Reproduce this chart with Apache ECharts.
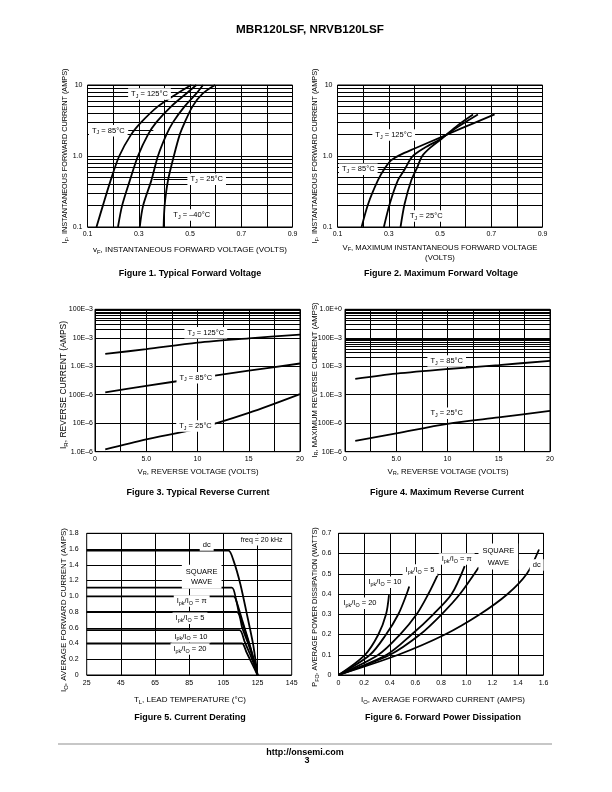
<!DOCTYPE html>
<html><head><meta charset="utf-8">
<script src="https://cdn.jsdelivr.net/npm/echarts@6/dist/echarts.min.js"></script>
<style>html,body{margin:0;padding:0;background:#fff}#c{width:612px;height:792px}</style>
</head><body><div id="c"></div>
<script>
// ---------------- DATA ----------------
// Figure 1: Typical forward voltage  [vF (V), iF (A)]
const fig1_T125 = [[0.135,0.1],[0.160,0.2],[0.190,0.45],[0.224,1.0],[0.270,2.0],[0.310,3.0],[0.375,5.0],[0.450,7.6],[0.505,10]];
const fig1_T85  = [[0.219,0.1],[0.235,0.2],[0.265,0.45],[0.297,1.0],[0.336,2.0],[0.369,3.0],[0.427,5.0],[0.486,7.6],[0.525,10]];
const fig1_T25  = [[0.304,0.1],[0.317,0.2],[0.349,0.45],[0.375,1.0],[0.408,2.0],[0.434,3.0],[0.479,5.0],[0.525,7.6],[0.551,10]];
const fig1_Tm40 = [[0.397,0.1],[0.401,0.2],[0.414,0.45],[0.437,1.0],[0.460,2.0],[0.480,3.0],[0.510,5.0],[0.550,7.6],[0.598,10]];
const fig1_arrows = [[[0.259,2.27],[0.357,2.27]],[[0.493,0.47],[0.357,0.47]]];
// Figure 2: Maximum forward voltage
const fig2_T125 = [[0.194,0.1],[0.220,0.213],[0.258,0.456],[0.284,0.666],[0.310,0.873],[0.343,1.03],[0.401,1.276],[0.505,1.845],[0.583,2.445],[0.713,3.85]];
const fig2_T85  = [[0.281,0.1],[0.304,0.213],[0.336,0.456],[0.362,0.645],[0.391,0.973],[0.440,1.304],[0.499,1.71],[0.570,2.58],[0.648,3.85]];
const fig2_T25  = [[0.346,0.1],[0.362,0.213],[0.388,0.456],[0.412,0.703],[0.430,0.995],[0.466,1.347],[0.503,1.71],[0.570,2.724],[0.629,3.85]];
const fig2_arrows = [[[0.259,0.65],[0.363,0.65]]];
// Figure 3: Typical reverse current [vR (V), iR (A)]
const fig3_T125 = [[1,2.7e-3],[5,4.0e-3],[10,6.8e-3],[15,9.6e-3],[20,13e-3]];
const fig3_T85  = [[1,1.2e-4],[5,2.05e-4],[10,3.8e-4],[15,7.0e-4],[20,1.25e-3]];
const fig3_T25  = [[1,1.2e-6],[5,2.7e-6],[10,6.5e-6],[15,2.3e-5],[20,1.05e-4]];
// Figure 4: Maximum reverse current
const fig4_T85  = [[1,3.6e-3],[5,5.5e-3],[10,8.0e-3],[15,11e-3],[20,15.5e-3]];
const fig4_T25  = [[1,2.4e-5],[5,4.4e-5],[10,9.5e-5],[15,1.6e-4],[20,2.7e-4]];
// Figure 5: Current derating [TL (°C), IO (A)]
const fig5_dc  = [[25,1.58],[108,1.58],[111,1.45],[115,1.15],[119,0.75],[122.5,0.38],[125,0]];
const fig5_sq  = [[25,1.11],[110,1.11],[112.5,0.95],[116,0.70],[119.5,0.45],[122.5,0.22],[125,0]];
const fig5_pi  = [[25,1.0],[111,1.0],[114,0.80],[117.5,0.57],[121,0.33],[125,0]];
const fig5_5   = [[25,0.8],[113,0.8],[116,0.60],[119.5,0.40],[122.5,0.20],[125,0]];
const fig5_10  = [[25,0.57],[114.5,0.57],[117.5,0.42],[120.5,0.27],[123,0.13],[125,0]];
const fig5_20  = [[25,0.4],[116,0.4],[118.5,0.29],[121,0.18],[123,0.09],[125,0]];
const fig5_xgrid = [45,65,85,105,125];
// Figure 6: Forward power dissipation [IO (A), PFO (W)]
const fig6_20 = [[0,0],[0.207,0.1],[0.311,0.2],[0.371,0.3],[0.394,0.395]];
const fig6_10 = [[0,0],[0.246,0.1],[0.371,0.2],[0.467,0.3],[0.532,0.4],[0.552,0.437]];
const fig6_5  = [[0,0],[0.311,0.1],[0.480,0.2],[0.610,0.3],[0.701,0.4],[0.778,0.5]];
const fig6_pi = [[0,0],[0.376,0.1],[0.571,0.2],[0.740,0.3],[0.883,0.4],[0.985,0.538]];
const fig6_sq = [[0,0],[0.402,0.1],[0.636,0.2],[0.805,0.3],[0.948,0.4],[1.095,0.532]];
const fig6_dc = [[0,0],[0.467,0.1],[0.831,0.2],[1.104,0.3],[1.320,0.4],[1.470,0.5],[1.565,0.62]];
// tick label texts
const logLabelsFwd = {'-1':'0.1','0':'1.0','1':'10'};
const logLabelsRev = {'-6':'1.0E\u20136','-5':'10E\u20136','-4':'100E\u20136','-3':'1.0E\u20133','-2':'10E\u20133','-1':'100E\u20133','0':'1.0E+0'};

// ---------------- LAYOUT ----------------
const FONT = "'Liberation Sans', Arial, Helvetica, sans-serif";
const GRIDS = [
  {left:87.5, top:85, width:205, height:142},
  {left:337.5, top:85, width:205, height:142},
  {left:95, top:309.3, width:205, height:142.4},
  {left:345, top:309.3, width:205, height:142.4},
  {left:86.7, top:533.3, width:205, height:141.7},
  {left:338.5, top:533.3, width:205, height:141.7}
];

function logMinors(e0, e1){ const o=[]; for(let e=e0;e<e1;e++) for(let k=2;k<=9;k++) o.push(+(k*Math.pow(10,e)).toPrecision(3)); return o; }
const lblStyle = (margin) => ({fontSize:7, fontFamily:FONT, color:'#000', margin});
const split = {show:true, lineStyle:{color:'#000', width:1}};
function linAxis(gi, min, max, interval, fmt, margin, showSplit){
  return {type:'value', gridIndex:gi, min, max, interval, axisLine:{show:false}, axisTick:{show:false},
    splitLine: showSplit===false ? {show:false} : split, axisLabel:Object.assign(lblStyle(margin),{formatter:fmt})};
}
function logAxis(gi, min, max, labels, margin){
  return {type:'log', logBase:10, gridIndex:gi, min, max, axisLine:{show:false}, axisTick:{show:false}, splitLine:split,
    axisLabel:Object.assign(lblStyle(margin),{formatter:v => labels[String(Math.round(Math.log10(v)))] || ''})};
}
const f0 = v => Math.abs(v)<1e-9 ? '0' : v.toFixed(1);

const xAxis = [
  linAxis(0, 0.1, 0.9, 0.1, v => (Math.round(v*10)%2===1 ? v.toFixed(1) : ''), 4),
  linAxis(1, 0.1, 0.9, 0.1, v => (Math.round(v*10)%2===1 ? v.toFixed(1) : ''), 4),
  linAxis(2, 0, 20, 2.5, v => (Math.abs(v%5)<1e-9 ? (v===5?'5.0':String(v)) : ''), 4),
  linAxis(3, 0, 20, 2.5, v => (Math.abs(v%5)<1e-9 ? (v===5?'5.0':String(v)) : ''), 4),
  linAxis(4, 25, 145, 5, v => (Math.abs((v-25)%20)<1e-9 ? String(v) : ''), 5, false),
  linAxis(5, 0, 1.6, 0.2, f0, 5)
];
const yAxis = [
  logAxis(0, 0.1, 10, logLabelsFwd, 5),
  logAxis(1, 0.1, 10, logLabelsFwd, 5),
  logAxis(2, 1e-6, 0.1, logLabelsRev, 2),
  logAxis(3, 1e-5, 1, logLabelsRev, 3),
  linAxis(4, 0, 1.8, 0.2, f0, 8),
  linAxis(5, 0, 0.7, 0.1, f0, 7)
];

function curve(gi, data, sm){
  return {type:'line', xAxisIndex:gi, yAxisIndex:gi, data, symbol:'none', showSymbol:false, smooth:(sm==null?0.3:sm),
    lineStyle:{color:'#000', width:1.8}, z:3, silent:true, animation:false};
}
function gridSeries(gi, xs, ys){
  return {type:'line', xAxisIndex:gi, yAxisIndex:gi, data:[], symbol:'none', z:1, silent:true, animation:false,
    markLine:{silent:true, symbol:['none','none'], label:{show:false}, animation:false,
      lineStyle:{color:'#000', width:1, type:'solid'},
      emphasis:{disabled:true},
      data: xs.map(v=>({xAxis:v})).concat(ys.map(v=>({yAxis:v})))}};
}
function arrowSeries(gi, arrows){
  return {type:'line', xAxisIndex:gi, yAxisIndex:gi, data:[], symbol:'none', z:4, silent:true, animation:false,
    markLine:{silent:true, symbol:['none','arrow'], symbolSize:[0,6], label:{show:false}, animation:false,
      lineStyle:{color:'#000', width:1, type:'solid'}, emphasis:{disabled:true},
      data: arrows.map(a => [{coord:a[0]},{coord:a[1]}])}};
}

const series = [
  gridSeries(0, [], logMinors(-1,1)),
  curve(0, fig1_T125), curve(0, fig1_T85), curve(0, fig1_T25), curve(0, fig1_Tm40),
  arrowSeries(0, fig1_arrows),
  gridSeries(1, [], logMinors(-1,1)),
  curve(1, fig2_T125), curve(1, fig2_T85), curve(1, fig2_T25),
  arrowSeries(1, fig2_arrows),
  gridSeries(2, [], logMinors(-6,-1)),
  curve(2, fig3_T125), curve(2, fig3_T85), curve(2, fig3_T25),
  gridSeries(3, [], logMinors(-5,0)),
  curve(3, fig4_T85), curve(3, fig4_T25),
  gridSeries(4, fig5_xgrid, []),
  curve(4, fig5_dc, 0.2), curve(4, fig5_sq, 0.2), curve(4, fig5_pi, 0.2), curve(4, fig5_5, 0.2), curve(4, fig5_10, 0.2), curve(4, fig5_20, 0.2),
  curve(5, fig6_20), curve(5, fig6_10), curve(5, fig6_5), curve(5, fig6_pi), curve(5, fig6_sq), curve(5, fig6_dc)
];

// ---------------- TEXT ----------------
function T(x, y, text, size, o){
  o = o || {};
  const sub = Math.round(size*0.72*10)/10;
  const st = {text, x:0, y:0, font:(o.bold?'bold ':'')+size+'px '+FONT, fill:'#000',
    align:o.align||'center', textAlign:o.align||'center', verticalAlign:'middle', textVerticalAlign:'middle',
    lineHeight:o.lh||size+2,
    rich:{s:{fontSize:sub, fontFamily:FONT, fill:'#000', verticalAlign:'bottom', lineHeight:sub+1}}};
  if (o.bg){ st.backgroundColor='#fff'; st.padding=o.pad||[1,3]; }
  return {type:'text', x, y, rotation:o.rot||0, z:100, silent:true, style:st};
}
const R = Math.PI/2;
const A = 7.5; // annotation size
const elements = [
  T(310, 30, 'MBR120LSF, NRVB120LSF', 11.7, {bold:true}),
  // Fig 1
  T(65, 156, 'I{s|F}, INSTANTANEOUS FORWARD CURRENT (AMPS)', 7.3, {rot:R}),
  T(190, 250, 'v{s|F}, INSTANTANEOUS FORWARD VOLTAGE (VOLTS)', 8),
  T(190, 274, 'Figure 1. Typical Forward Voltage', 9, {bold:true}),
  T(149.5, 94, 'T{s|J} = 125\u00B0C', A, {bg:true}),
  T(108.3, 130.7, 'T{s|J} = 85\u00B0C', A, {bg:true}),
  T(206.7, 179.3, 'T{s|J} = 25\u00B0C', A, {bg:true}),
  T(191.7, 215, 'T{s|J} = \u201340\u00B0C', A, {bg:true}),
  // Fig 2
  T(315, 156, 'I{s|F}, INSTANTANEOUS FORWARD CURRENT (AMPS)', 7.3, {rot:R}),
  T(440, 248, 'V{s|F}, MAXIMUM INSTANTANEOUS FORWARD VOLTAGE', 7.7),
  T(440, 257.5, '(VOLTS)', 7.7),
  T(441, 274, 'Figure 2. Maximum Forward Voltage', 9, {bold:true}),
  T(393.7, 135, 'T{s|J} = 125\u00B0C', A, {bg:true}),
  T(358.3, 169.3, 'T{s|J} = 85\u00B0C', A, {bg:true}),
  T(426.3, 216, 'T{s|J} = 25\u00B0C', A, {bg:true}),
  // Fig 3
  T(64, 385, 'I{s|R}, REVERSE CURRENT (AMPS)', 8.5, {rot:R}),
  T(198, 472, 'V{s|R}, REVERSE VOLTAGE (VOLTS)', 7.8),
  T(198, 493, 'Figure 3. Typical Reverse Current', 9, {bold:true}),
  T(205.8, 332.7, 'T{s|J} = 125\u00B0C', A, {bg:true}),
  T(195.8, 377.7, 'T{s|J} = 85\u00B0C', A, {bg:true}),
  T(195.5, 426, 'T{s|J} = 25\u00B0C', A, {bg:true}),
  // Fig 4
  T(315, 380, 'I{s|R}, MAXIMUM REVERSE CURRENT (AMPS)', 7.7, {rot:R}),
  T(448, 472, 'V{s|R}, REVERSE VOLTAGE (VOLTS)', 7.8),
  T(447, 493, 'Figure 4. Maximum Reverse Current', 9, {bold:true}),
  T(446.7, 361, 'T{s|J} = 85\u00B0C', A, {bg:true}),
  T(446.7, 413.3, 'T{s|J} = 25\u00B0C', A, {bg:true}),
  // Fig 5
  T(64, 610, 'I{s|O}, AVERAGE FORWARD CURRENT (AMPS)', 8, {rot:R}),
  T(190, 700, 'T{s|L}, LEAD TEMPERATURE (\u00B0C)', 8),
  T(190, 718, 'Figure 5. Current Derating', 9, {bold:true}),
  T(206.7, 545, 'dc', A, {bg:true}),
  T(261.7, 540, 'freq = 20 kHz', 7, {bg:true}),
  T(201.7, 576.7, 'SQUARE\nWAVE', A, {bg:true, lh:10, pad:[2,4]}),
  T(191.7, 601, 'I{s|pk}/I{s|O} = \u03C0', A, {bg:true}),
  T(190, 618.3, 'I{s|pk}/I{s|O} = 5', A, {bg:true}),
  T(191, 636.7, 'I{s|pk}/I{s|O} = 10', A, {bg:true}),
  T(190, 649, 'I{s|pk}/I{s|O} = 20', A, {bg:true}),
  // Fig 6
  T(315, 607, 'P{s|FO}, AVERAGE POWER DISSIPATION (WATTS)', 7.3, {rot:R}),
  T(443, 700, 'I{s|O}, AVERAGE FORWARD CURRENT (AMPS)', 8),
  T(443, 718, 'Figure 6. Forward Power Dissipation', 9, {bold:true}),
  T(360, 603.3, 'I{s|pk}/I{s|O} = 20', A, {bg:true}),
  T(385, 582.3, 'I{s|pk}/I{s|O} = 10', A, {bg:true}),
  T(420, 570, 'I{s|pk}/I{s|O} = 5', A, {bg:true}),
  T(456.7, 559, 'I{s|pk}/I{s|O} = \u03C0', A, {bg:true}),
  T(498.3, 556.5, 'SQUARE\nWAVE', A, {bg:true, lh:12, pad:[1,4]}),
  T(536.7, 565, 'dc', A, {bg:true}),
  // footer
  {type:'line', z:100, silent:true, shape:{x1:58, y1:744, x2:552, y2:744}, style:{stroke:'#b4b4b4', lineWidth:1.5}},
  T(305, 752.5, 'http://onsemi.com', 9, {bold:true}),
  T(307, 760.5, '3', 9, {bold:true})
];

const option = {
  animation:false,
  backgroundColor:'#fff',
  grid: GRIDS.map(g => Object.assign({show:true, borderColor:'#000', borderWidth:1, backgroundColor:'transparent', containLabel:false}, g)),
  xAxis, yAxis, series,
  graphic:{elements}
};
const chart = echarts.init(document.getElementById('c'), null, {renderer:'canvas', width:612, height:792});
chart.setOption(option);
</script>
</body></html>
